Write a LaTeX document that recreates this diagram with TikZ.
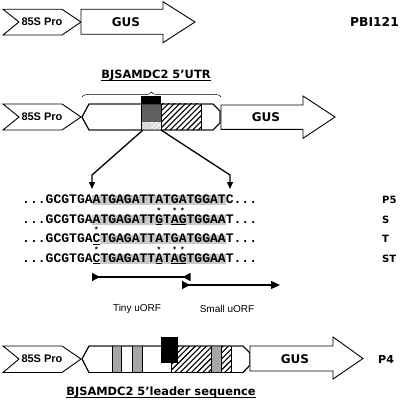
\documentclass[tikz,border=0pt]{standalone}
\usepackage{fontspec}
\newfontfamily\dvs{DejaVu Sans}
\newfontfamily\lsans{Liberation Sans}
\newfontfamily\lmono{Liberation Mono}
\usetikzlibrary{arrows.meta,decorations.pathreplacing}
\definecolor{hl}{HTML}{C8C8C8}
\definecolor{dgray}{HTML}{606060}
\definecolor{lgray}{HTML}{D9D9D9}
\definecolor{mgray}{HTML}{A6A6A6}
\newcommand\hatchrect[4]{%
  \begin{scope}
    \clip (#1,#2) rectangle (#3,#4);
    \foreach \k in {0,...,16} \draw[hatchln] ({#1-30+\k*5.6},#4) -- ++(32,-32);
  \end{scope}}
\begin{document}
\begin{tikzpicture}[x=1pt,y=-1pt,
  outl/.style={draw=black, line width=0.9pt, line join=miter},
  hatchln/.style={line width=1.1pt},
  protxt/.style={font=\lsans\bfseries\fontsize{11}{13}\selectfont, inner sep=0},
  gustxt/.style={font=\dvs\bfseries\fontsize{12}{14}\selectfont, inner sep=0},
  rowlbl/.style={font=\dvs\bfseries\fontsize{10}{12}\selectfont, anchor=west, inner sep=0},
  titletxt/.style={font=\dvs\bfseries\fontsize{11.4}{13}\selectfont, inner sep=0, anchor=base},
  seqtxt/.style={font=\lmono\bfseries\fontsize{13.05}{15}\selectfont, inner sep=0, anchor=base west},
  starnode/.style={font=\lsans\bfseries\fontsize{8}{9}\selectfont, inner sep=0, anchor=base},
  orftxt/.style={font=\lsans\fontsize{10}{12}\selectfont, inner sep=0},
  conn/.style={line width=1.3pt},
  uline/.style={line width=0.9pt}
]
\useasboundingbox (0,0) rectangle (400,401);
\def\cw{7.83}
% ---------- Row 1 ----------
\draw[outl, fill=white] (3,9.3) -- (62,9.3) -- (81,22) -- (62,35) -- (3,35) -- (19,22) -- cycle;
\node[protxt] (pro1) at (42,22) {85S Pro};
\draw[outl, fill=white] (81,9.3) -- (163,9.3) -- (163,1.7) -- (195,22) -- (163,42.7) -- (163,34.3) -- (81,34.3) -- cycle;
\node[gustxt] (gus1) at (126,22) {GUS};
\node[font=\dvs\bfseries\fontsize{12.3}{14}\selectfont, inner sep=0, anchor=east] (pbi) at (399,22) {PBI121};
% ---------- Row 2 ----------
\node[titletxt] (utrt) at (156,78.6) {BJSAMDC2 5’UTR};
\draw[line width=0.8pt] ([yshift=-2pt]utrt.base west) -- ([yshift=-2pt]utrt.base east);
\draw[decorate, decoration={brace, amplitude=5pt}, line width=0.5pt] (82,97) -- (221,97);
\draw[outl, fill=white] (3,104) -- (62,104) -- (81,117) -- (62,130) -- (3,130) -- (19,117) -- cycle;
\node[protxt] (pro2) at (42,117) {85S Pro};
\draw[outl, fill=white] (89,104) -- (213,104) -- (220,111) -- (220,123) -- (213,130) -- (89,130) -- (82,117) -- cycle;
\fill[dgray] (141,104) rectangle (161,122);
\fill[lgray] (141,122) rectangle (161,130);
\begin{scope}
  \clip (151,122) rectangle (161,130);
  \foreach \k in {0,...,4} \draw[line width=0.8pt, white] ({145+\k*4.5},130) -- ++(10,-10);
\end{scope}
\hatchrect{161}{104}{201}{130}
\draw[line width=0.8pt] (161,104) -- (161,130) (201,104) -- (201,130) (141,104) -- (141,130);
\fill[black] (141,96) rectangle (161,104);
\draw[outl] (89,104) -- (213,104) -- (220,111) -- (220,123) -- (213,130) -- (89,130) -- (82,117) -- cycle;
\draw[outl, fill=white] (221,105) -- (303,105) -- (303,96) -- (335,117) -- (303,138.3) -- (303,129.3) -- (221,129.3) -- cycle;
\node[gustxt] (gus2) at (266,117) {GUS};
% connectors to sequence
\coordinate (la) at (143,130);
\coordinate (lb) at (92,175);
\coordinate (lc) at (92,189);
\coordinate (ra) at (161,130);
\coordinate (rb) at (230,175);
\coordinate (rc) at (230,189);
\draw[conn, -{Triangle[length=7pt,width=6pt]}] (la) -- (lb) -- (lc);
\draw[conn, -{Triangle[length=7pt,width=6pt]}] (ra) -- (rb) -- (rc);
% ---------- Sequences ----------
\fill[hl] ({22+9*\cw},195) rectangle ({22+26*\cw},204.5);
\fill[hl] ({22+9*\cw},215) rectangle ({22+26*\cw},224.5);
\fill[hl] ({22+10*\cw},234.5) rectangle ({22+26*\cw},244);
\fill[hl] ({22+10*\cw},254) rectangle ({22+26*\cw},263.5);
\node[seqtxt] (p5) at (22,203) {...GCGTGAATGAGATTATGATGGATC...};
\node[seqtxt] (sq) at (22,223) {...GCGTGAATGAGATTGTAGTGGAAT...};
\node[seqtxt] (tq) at (22,242.5) {...GCGTGACTGAGATTATGATGGAAT...};
\node[seqtxt] (stq) at (22,262) {...GCGTGACTGAGATTATAGTGGAAT...};
\foreach \i/\b [count=\n] in {17/223,19/223,20/223,9/242.5,9/262,17/262,19/262,20/262}
  \node[starnode] (star\n) at ({22+(\i+0.5)*\cw},\b-9.6) {*};
\foreach \i/\j/\b in {17/17/223,19/20/223,9/9/242.5,9/9/262,17/17/262,19/20/262}
  \draw[uline] ({22+\i*\cw+0.5},\b+1.8) -- ({22+(\j+1)*\cw-0.5},\b+1.8);
\node[rowlbl] (l5) at (382,200) {P5};
\node[rowlbl] (ls) at (382,219.5) {S};
\node[rowlbl] (lt) at (382,239) {T};
\node[rowlbl] (lst) at (382,258.5) {ST};
% ---------- uORFs ----------
\coordinate (ta) at (92,277);
\coordinate (tb) at (190.5,277);
\coordinate (sa) at (182,285);
\coordinate (sb) at (280,285);
\draw[line width=1.2pt, {Triangle[reversed,length=8pt,width=8pt]}-{Triangle[reversed,length=8pt,width=8pt]}] (ta) -- (tb);
\draw[line width=1.2pt, {Triangle[reversed,length=8pt,width=8pt]}-{Triangle[length=9pt,width=8pt]}] (sa) -- (sb);
\node[orftxt] (tiny) at (137,309) {Tiny uORF};
\node[orftxt] (small) at (227,309) {Small uORF};
% ---------- Row 4 ----------
\draw[outl, fill=white] (3,346) -- (62,346) -- (81,359) -- (62,372.5) -- (3,372.5) -- (19,359) -- cycle;
\node[protxt] (pro4) at (42,359) {85S Pro};
\draw[outl, fill=white] (89,346) -- (243,346) -- (250,353) -- (250,365) -- (243,372.5) -- (89,372.5) -- (82,359) -- cycle;
\fill[mgray] (112,346) rectangle (121,372.5);
\fill[mgray] (132,346) rectangle (142,372.5);
\fill[mgray] (211,346) rectangle (221,372.5);
\hatchrect{171}{346}{211}{372.5}
\hatchrect{221}{346}{231}{372.5}
\draw[line width=0.8pt] (112,346) -- (112,372.5) (121,346) -- (121,372.5)
  (132,346) -- (132,372.5) (142,346) -- (142,372.5)
  (171,346) -- (171,372.5) (211,346) -- (211,372.5) (221,346) -- (221,372.5) (231,346) -- (231,372.5);
\draw[outl] (89,346) -- (243,346) -- (250,353) -- (250,365) -- (243,372.5) -- (89,372.5) -- (82,359) -- cycle;
\fill[black] (161,337) rectangle (178,363);
\draw[outl, fill=white] (250,346) -- (333,346) -- (333,337) -- (363,358.5) -- (333,379) -- (333,371) -- (250,371) -- cycle;
\node[gustxt] (gus4) at (295,359) {GUS};
\node[font=\dvs\bfseries\fontsize{11}{13}\selectfont, inner sep=0, anchor=west] (p4) at (378,359) {P4};
\node[titletxt] (leadt) at (161,395.5) {BJSAMDC2 5’leader sequence};
\draw[line width=0.8pt] ([yshift=-2pt]leadt.base west) -- ([yshift=-2pt]leadt.base east);
\end{tikzpicture}
\end{document}
